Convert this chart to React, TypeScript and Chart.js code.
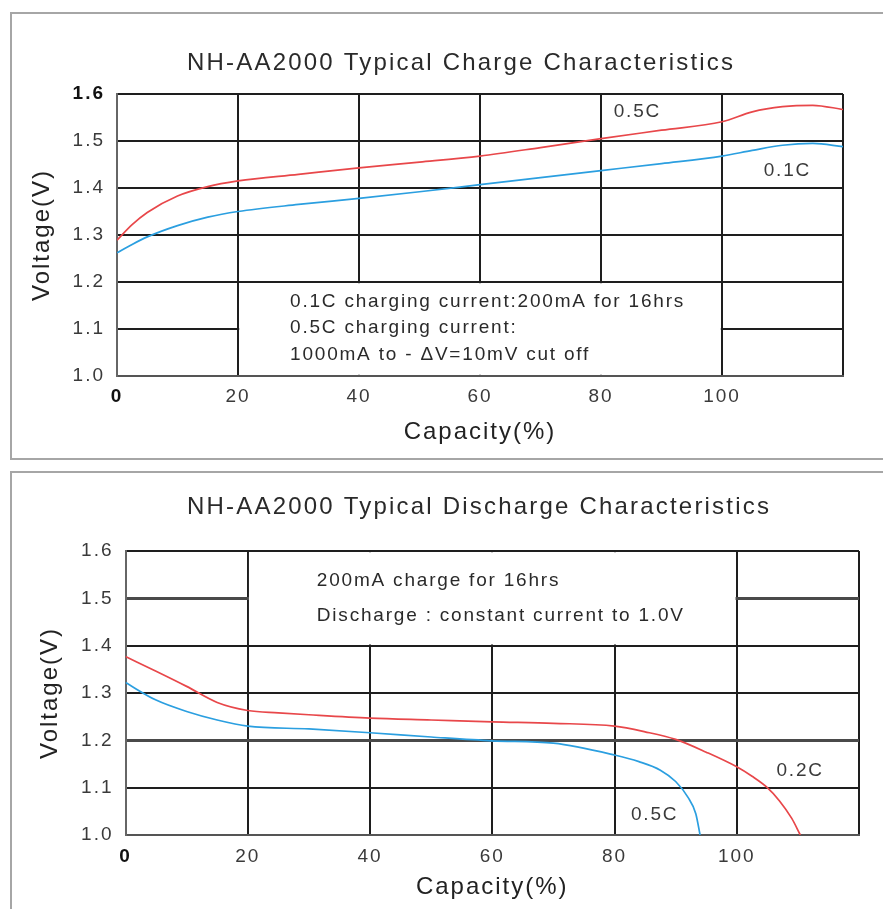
import React, { useEffect, useRef } from "react";
import { Chart, registerables } from "chart.js";

Chart.register(...registerables);

// ---------- Data ----------
const chargeCapacity = [0, 2.5, 5, 10, 15, 20, 30, 40, 50, 60, 70, 80, 90, 100, 105, 110, 115, 120];
const charge05C = [1.289, 1.322, 1.348, 1.383, 1.403, 1.415, 1.429, 1.443, 1.455, 1.468, 1.486, 1.505, 1.523, 1.541, 1.562, 1.573, 1.576, 1.567];
const charge01C = [1.262, 1.28, 1.296, 1.32, 1.338, 1.35, 1.365, 1.378, 1.392, 1.407, 1.422, 1.437, 1.452, 1.468, 1.48, 1.491, 1.495, 1.488];

const discharge02CCapacity = [0, 5, 10, 15, 20, 25, 30, 40, 50, 60, 70, 80, 85, 90, 95, 100, 102.5, 105, 107, 109, 110.4];
const discharge02C = [1.377, 1.346, 1.314, 1.28, 1.263, 1.258, 1.254, 1.247, 1.243, 1.239, 1.236, 1.23, 1.218, 1.202, 1.175, 1.144, 1.124, 1.1, 1.072, 1.035, 1.0];
const discharge05CCapacity = [0, 5, 10, 15, 20, 30, 40, 50, 60, 70, 80, 84, 87.5, 90, 92, 93.3, 94];
const discharge05C = [1.322, 1.285, 1.261, 1.243, 1.23, 1.224, 1.216, 1.207, 1.199, 1.194, 1.169, 1.155, 1.137, 1.113, 1.08, 1.045, 1.0];

const xTicks = [0, 20, 40, 60, 80, 100, 120];
const yTicks = [1.0, 1.1, 1.2, 1.3, 1.4, 1.5, 1.6];

const chargeTitle = "NH-AA2000 Typical Charge Characteristics";
const dischargeTitle = "NH-AA2000 Typical Discharge Characteristics";
const chargeNotes = [
  "0.1C charging current:200mA for 16hrs",
  "0.5C charging current:",
  "1000mA to - \u0394V=10mV cut off",
];
const dischargeNotes = ["200mA charge for 16hrs", "Discharge : constant current to 1.0V"];

const RED = "#e8474a";
const BLUE = "#2b9fe0";
const FONT = "'Liberation Sans', Arial, Helvetica, sans-serif";

type Label = { text: string; x: number; y: number };

interface Spec {
  width: number;
  height: number;
  padTop: number;
  padRight: number;
  yAxisWidth: number;
  xAxisHeight: number;
  yTitlePad: number;
  xTitlePad: number;
  yTickPad: number;
  xTickPad: number;
  title: string;
  titleX: number;
  titleY: number;
  box: { x1: number; x2: number; y1: number; y2: number };
  notes: Label[];
  seriesLabels: Label[];
  boldY: number[];
  heavyY: number[];
  datasets: { xs: number[]; ys: number[]; color: string; label: string }[];
}

function makeChart(canvas: HTMLCanvasElement, spec: Spec) {
  const near = (a: number, b: number) => Math.abs(a - b) < 1e-6;
  const overlay = {
    id: "overlay",
    beforeDraw(chart: any) {
      chart.ctx.letterSpacing = "2px";
    },
    beforeDatasetsDraw(chart: any) {
      const { ctx, scales } = chart;
      const xs = scales.x;
      const ys = scales.y;
      const x1 = xs.getPixelForValue(spec.box.x1) + 1.2;
      const x2 = xs.getPixelForValue(spec.box.x2) - 1.2;
      const yTop = ys.getPixelForValue(spec.box.y2) + 1.2;
      const yBot = ys.getPixelForValue(spec.box.y1) - 1.2;
      ctx.save();
      ctx.fillStyle = "#ffffff";
      ctx.fillRect(x1, yTop, x2 - x1, yBot - yTop);
      ctx.restore();
    },
    afterDatasetsDraw(chart: any) {
      const { ctx, scales } = chart;
      const xs = scales.x;
      const ys = scales.y;
      ctx.save();
      ctx.textBaseline = "middle";
      ctx.textAlign = "left";
      ctx.letterSpacing = "2.2px";
      ctx.fillStyle = "#2a2a2a";
      ctx.font = `24px ${FONT}`;
      ctx.fillText(spec.title, spec.titleX, spec.titleY);
      ctx.letterSpacing = "1.8px";
      ctx.font = `19px ${FONT}`;
      ctx.fillStyle = "#2a2a2a";
      for (const n of spec.notes) {
        ctx.fillText(n.text, xs.getPixelForValue(n.x), ys.getPixelForValue(n.y));
      }
      ctx.fillStyle = "#3a3a3a";
      for (const l of spec.seriesLabels) {
        ctx.fillText(l.text, xs.getPixelForValue(l.x), ys.getPixelForValue(l.y));
      }
      ctx.restore();
    },
  };

  return new Chart(canvas, {
    type: "line",
    data: {
      datasets: spec.datasets.map((d) => ({
        label: d.label,
        data: d.xs.map((x, i) => ({ x, y: d.ys[i] })),
        borderColor: d.color,
        backgroundColor: d.color,
        borderWidth: 1.7,
        pointRadius: 0,
        fill: false,
        cubicInterpolationMode: "monotone" as const,
      })),
    },
    options: {
      responsive: false,
      animation: false,
      layout: { padding: { top: spec.padTop, right: spec.padRight, left: 0, bottom: 0 } },
      plugins: {
        legend: { display: false },
        tooltip: { enabled: false },
        title: { display: false },
      },
      scales: {
        x: {
          type: "linear",
          min: 0,
          max: 120,
          afterBuildTicks: (s: any) => {
            s.ticks = xTicks.map((v) => ({ value: v }));
          },
          afterFit: (s: any) => {
            s.height = spec.xAxisHeight;
          },
          ticks: {
            autoSkip: false,
            maxRotation: 0,
            padding: spec.xTickPad,
            color: (c: any) => (c.tick && c.tick.value === 0 ? "#111" : "#3a3a3a"),
            font: (c: any) => ({
              family: FONT,
              size: 19,
              weight: c.tick && c.tick.value === 0 ? "bold" : "normal",
            }),
            callback: (v: any) => (Number(v) === 120 ? "" : String(v)),
          },
          grid: { color: "#1e1e1e", lineWidth: 2, drawTicks: false },
          border: { display: true, color: "#555", width: 2 },
          title: {
            display: true,
            text: "Capacity(%)",
            color: "#222",
            font: { family: FONT, size: 24 },
            padding: { top: 0, bottom: spec.xTitlePad },
          },
        },
        y: {
          type: "linear",
          min: 1.0,
          max: 1.6,
          afterBuildTicks: (s: any) => {
            s.ticks = yTicks.map((v) => ({ value: v }));
          },
          afterFit: (s: any) => {
            s.width = spec.yAxisWidth;
          },
          ticks: {
            padding: spec.yTickPad,
            color: (c: any) =>
              c.tick && spec.boldY.some((b) => near(b, c.tick.value)) ? "#111" : "#3a3a3a",
            font: (c: any) => ({
              family: FONT,
              size: 19,
              weight: c.tick && spec.boldY.some((b) => near(b, c.tick.value)) ? "bold" : "normal",
            }),
            callback: (v: any) => Number(v).toFixed(1),
          },
          grid: {
            drawTicks: false,
            color: (c: any) =>
              c.tick && spec.heavyY.some((b) => near(b, c.tick.value)) ? "#4a4a4a" : "#1e1e1e",
            lineWidth: (c: any) =>
              c.tick && spec.heavyY.some((b) => near(b, c.tick.value)) ? 3 : 2,
          },
          border: { display: true, color: "#666", width: 2 },
          title: {
            display: true,
            text: "Voltage(V)",
            color: "#222",
            font: { family: FONT, size: 24 },
            padding: { top: spec.yTitlePad, bottom: 0 },
          },
        },
      },
    },
    plugins: [overlay],
  } as any);
}

const chargeSpec: Spec = {
  width: 883,
  height: 460,
  padTop: 94,
  padRight: 40,
  yAxisWidth: 117,
  xAxisHeight: 84,
  yTitlePad: 28,
  xTitlePad: 13,
  yTickPad: 12,
  xTickPad: 9,
  title: chargeTitle,
  titleX: 187,
  titleY: 63,
  box: { x1: 20, x2: 100, y1: 1.0, y2: 1.2 },
  notes: [
    { text: chargeNotes[0], x: 28.6, y: 1.157 },
    { text: chargeNotes[1], x: 28.6, y: 1.102 },
    { text: chargeNotes[2], x: 28.6, y: 1.045 },
  ],
  seriesLabels: [
    { text: "0.5C", x: 82.1, y: 1.562 },
    { text: "0.1C", x: 106.9, y: 1.436 },
  ],
  boldY: [1.6],
  heavyY: [],
  datasets: [
    { xs: chargeCapacity, ys: charge05C, color: RED, label: "0.5C" },
    { xs: chargeCapacity, ys: charge01C, color: BLUE, label: "0.1C" },
  ],
};

const dischargeSpec: Spec = {
  width: 883,
  height: 449,
  padTop: 91,
  padRight: 24,
  yAxisWidth: 125.5,
  xAxisHeight: 74,
  yTitlePad: 36,
  xTitlePad: 7,
  yTickPad: 12,
  xTickPad: 10,
  title: dischargeTitle,
  titleX: 187,
  titleY: 47,
  box: { x1: 20, x2: 100, y1: 1.4, y2: 1.6 },
  notes: [
    { text: dischargeNotes[0], x: 31.3, y: 1.537 },
    { text: dischargeNotes[1], x: 31.3, y: 1.463 },
  ],
  seriesLabels: [
    { text: "0.2C", x: 106.5, y: 1.135 },
    { text: "0.5C", x: 82.7, y: 1.042 },
  ],
  boldY: [],
  heavyY: [1.2, 1.5],
  datasets: [
    { xs: discharge02CCapacity, ys: discharge02C, color: RED, label: "0.2C" },
    { xs: discharge05CCapacity, ys: discharge05C, color: BLUE, label: "0.5C" },
  ],
};

function ChartCanvas({ spec, top }: { spec: Spec; top: number }) {
  const ref = useRef<HTMLCanvasElement | null>(null);
  useEffect(() => {
    if (!ref.current) return;
    const chart = makeChart(ref.current, spec);
    return () => chart.destroy();
  }, [spec]);
  return (
    <canvas
      ref={ref}
      width={spec.width}
      height={spec.height}
      style={{ position: "absolute", left: 0, top, width: spec.width, height: spec.height }}
    />
  );
}

export default function App() {
  const frame: React.CSSProperties = {
    position: "absolute",
    left: 10,
    width: 900,
    border: "2px solid #a6a6a6",
    boxSizing: "border-box",
  };
  return (
    <div
      style={{
        position: "absolute",
        left: 0,
        top: 0,
        width: 883,
        height: 909,
        overflow: "hidden",
        background: "#ffffff",
      }}
    >
      <div style={{ ...frame, top: 12, height: 448 }} />
      <div style={{ ...frame, top: 471, height: 500 }} />
      <ChartCanvas spec={chargeSpec} top={0} />
      <ChartCanvas spec={dischargeSpec} top={460} />
    </div>
  );
}
